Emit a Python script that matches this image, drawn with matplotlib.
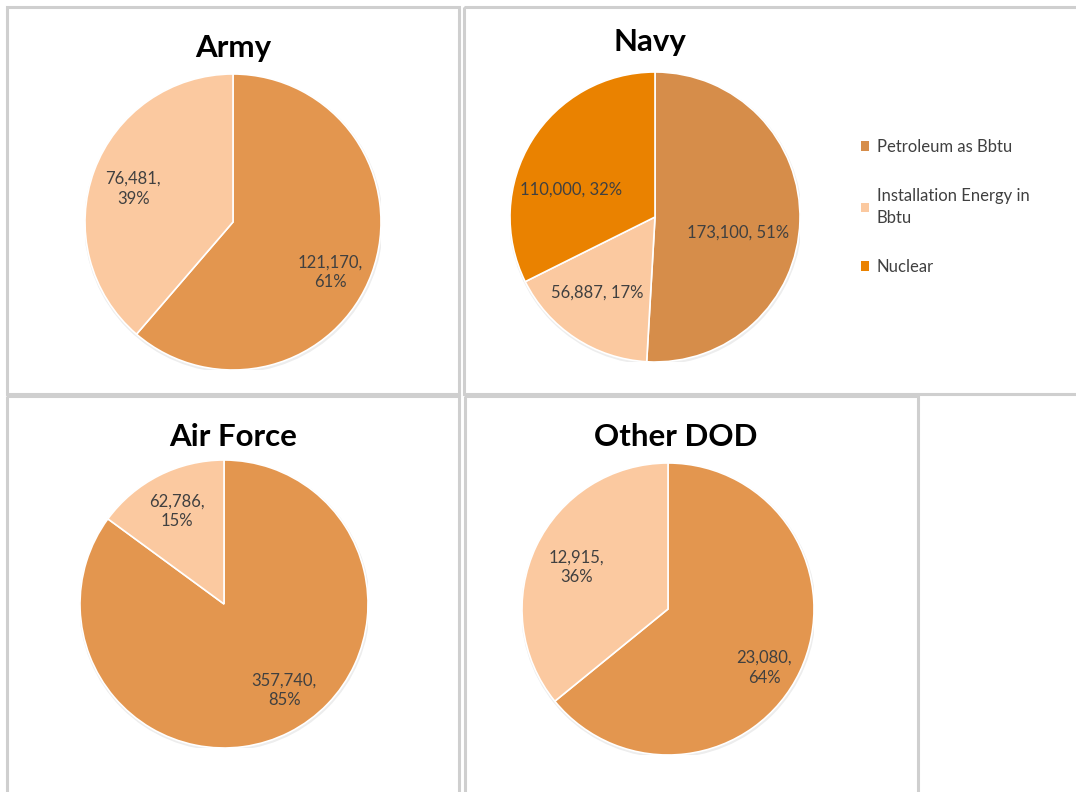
import numpy as np
import matplotlib
matplotlib.use("Agg")
import matplotlib.pyplot as plt
from matplotlib.patches import Rectangle, Circle

plt.rcParams['font.family'] = ['Lato', 'DejaVu Sans']

# data (Bbtu)
categories = ["Petroleum as Bbtu", "Installation Energy in\nBbtu", "Nuclear"]
army_values = [121170, 76481]
navy_values = [173100, 56887, 110000]
air_force_values = [357740, 62786]
other_dod_values = [23080, 12915]

# colours
army_colors = ["#E3964F", "#FBC9A0"]
navy_colors = ["#D68D4A", "#FBC9A0", "#EA8200"]

W, H = 1076, 792
fig = plt.figure(figsize=(W / 100, H / 100), dpi=100)
fig.patch.set_facecolor("white")

# background axes in pixel units for the panel frames
bg = fig.add_axes([0, 0, 1, 1])
bg.set_xlim(0, W)
bg.set_ylim(H, 0)
bg.axis("off")
for x0, y0, x1, y1 in [(7, 7, 459, 394), (464, 7, 1080, 394),
                       (7, 396, 459, 800), (465, 396, 918, 800)]:
    bg.add_patch(Rectangle((x0, y0), x1 - x0, y1 - y0, fill=False,
                           edgecolor="#CFCFCF", linewidth=2.2))


def pie_axes(cx, cy, r):
    ax = fig.add_axes([(cx - r) / W, (H - cy - r) / H, 2 * r / W, 2 * r / H])
    return ax


def draw_pie(ax, values, colors, dists, offsets, two_lines=True):
    ax.add_patch(Circle((0.004, -0.01), 1.01, color="#000000", alpha=0.07,
                        zorder=0, linewidth=0))
    wedges, _ = ax.pie(values, colors=colors, startangle=90, counterclock=False,
                       radius=1, wedgeprops=dict(edgecolor="white", linewidth=1.2))
    total = float(sum(values))
    for w, v, d, off in zip(wedges, values, dists, offsets):
        theta = np.deg2rad((w.theta1 + w.theta2) / 2.0 + off)
        pct = int(round(100 * v / total))
        sep = "\n" if two_lines else " "
        txt = f"{v:,},{sep}{pct}%"
        ax.text(d * np.cos(theta), d * np.sin(theta), txt, ha="center",
                va="center", fontsize=12, color="#404040", linespacing=1.3)
    ax.set_xlim(-1, 1)
    ax.set_ylim(-1, 1)
    ax.axis("off")
    return wedges


ax1 = pie_axes(233, 222, 148)
draw_pie(ax1, army_values, army_colors, [0.74, 0.71], [-7, 2])

ax2 = pie_axes(655, 217, 145)
navy_wedges = draw_pie(ax2, navy_values, navy_colors, [0.58, 0.66, 0.61],
                       [-9, -4, 14], two_lines=False)

ax3 = pie_axes(224, 604, 144)
draw_pie(ax3, air_force_values, army_colors, [0.73, 0.72], [8, 0])

ax4 = pie_axes(668, 609, 146)
draw_pie(ax4, other_dod_values, army_colors, [0.77, 0.69], [-6, 1])

# titles
title_kw = dict(ha="center", va="center", fontsize=22.5, fontweight="bold",
                color="black")
bg.text(233, 48, "Army", **title_kw)
bg.text(650, 42, "Navy", **title_kw)
bg.text(233, 437, "Air Force", **title_kw)
bg.text(676, 437, "Other DOD", **title_kw)

# legend
leg = fig.legend(navy_wedges, categories, loc="upper left",
                 bbox_to_anchor=(856 / W, 1 - 134 / H), frameon=False,
                 fontsize=12, handlelength=0.5, handleheight=0.5,
                 handletextpad=0.45, labelspacing=2.0, labelcolor="#404040",
                 borderaxespad=0, borderpad=0.3)
for t in leg.get_texts():
    t.set_linespacing(1.4)
for h in leg.legend_handles:
    h.set_edgecolor("none")

fig.savefig("out.png", dpi=100, facecolor="white")
